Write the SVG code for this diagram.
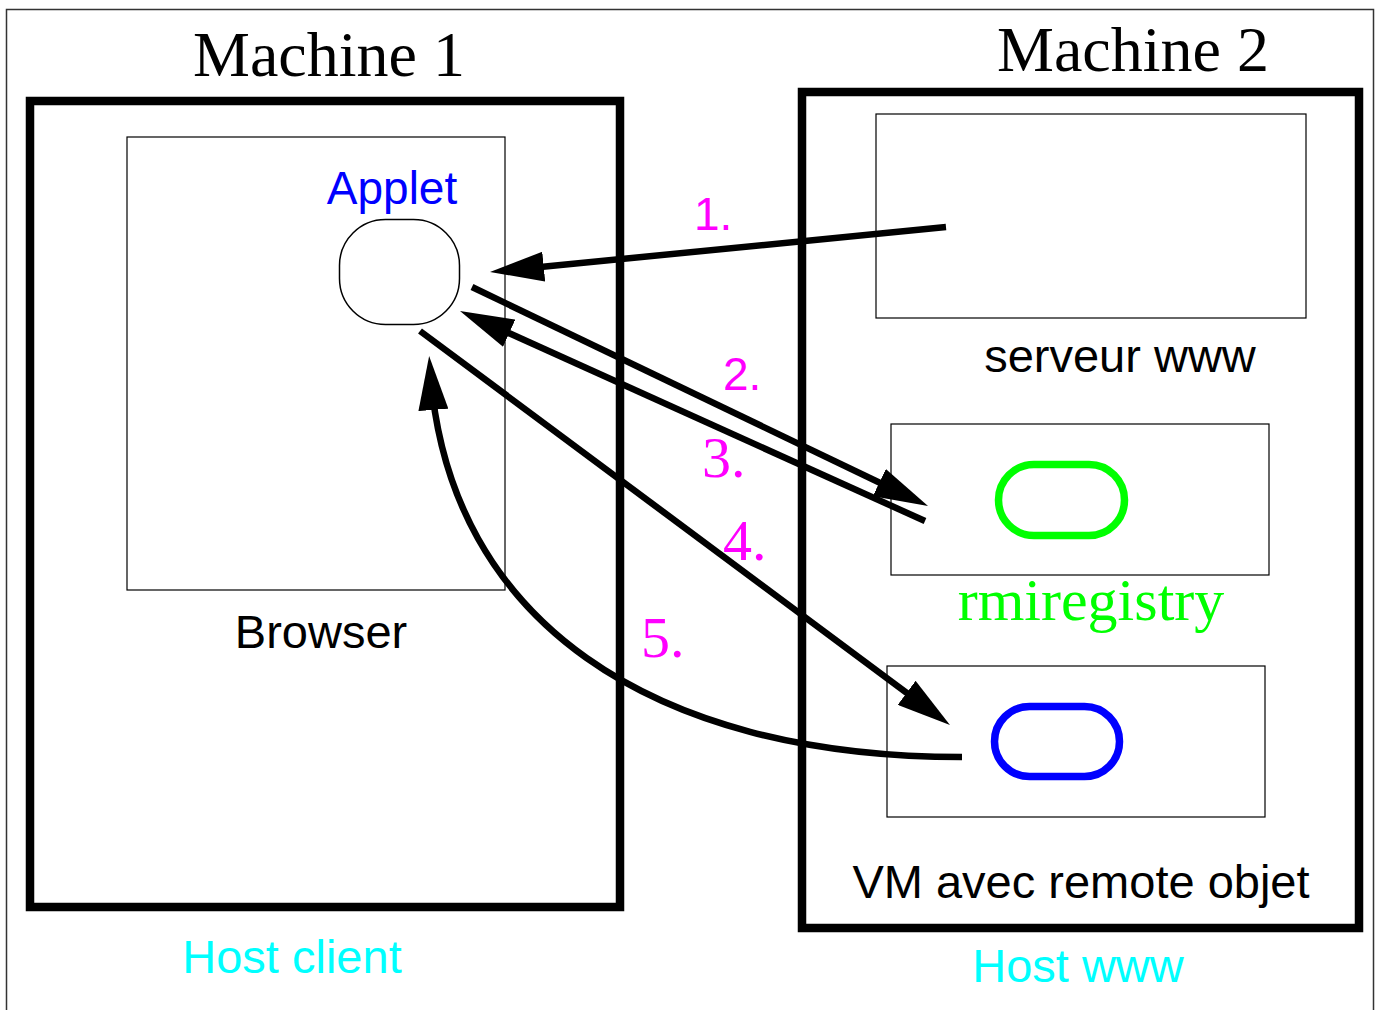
<svg xmlns="http://www.w3.org/2000/svg" width="1378" height="1010" viewBox="0 0 1378 1010">
  <style>
    .frame { fill: none; stroke: #000; stroke-width: 8.5; }
    .box { fill: none; stroke: #000; stroke-width: 1.2; }
    .title { font-family: "Liberation Serif", serif; font-size: 64px; fill: #000; }
    .label { font-family: "Liberation Sans", sans-serif; font-size: 47px; fill: #000; }
    .host { font-family: "Liberation Sans", sans-serif; font-size: 47px; fill: #00ffff; }
    .step { fill: #ff00ff; }
    .step-sans { font-family: "Liberation Sans", sans-serif; font-size: 46px; }
    .step-serif { font-family: "Liberation Serif", serif; font-size: 58px; }
    .link { fill: none; stroke: #000; stroke-width: 6.5; marker-end: url(#head); }
  </style>
  <defs>
    <marker id="head" viewBox="0 0 54 30" refX="34" refY="15" markerWidth="54" markerHeight="30" markerUnits="userSpaceOnUse" orient="auto">
      <path d="M0,0 L54,15 L0,30 z" fill="#000"/>
    </marker>
  </defs>

  <rect width="1378" height="1010" fill="#fff"/>
  <!-- page border -->
  <rect x="6.5" y="9.5" width="1367" height="1010" fill="none" stroke="#333" stroke-width="1.5"/>

  <!-- Machine 1: client host -->
  <g id="machine1">
    <text class="title" x="329" y="76" text-anchor="middle">Machine 1</text>
    <rect class="frame" x="30" y="101" width="590" height="806"/>
    <text class="host" x="292" y="973" text-anchor="middle">Host client</text>
  </g>
  <g id="browser">
    <rect class="box" x="127" y="137" width="378" height="453"/>
    <text class="label" x="321" y="648" text-anchor="middle">Browser</text>
  </g>
  <g id="applet">
    <text x="392" y="204" text-anchor="middle" font-family="Liberation Sans, sans-serif" font-size="46" fill="#0000ff">Applet</text>
    <rect x="339.5" y="219.5" width="120" height="105" rx="46" ry="46" fill="#fff" stroke="#000" stroke-width="1.5"/>
  </g>

  <!-- Machine 2: www host -->
  <g id="machine2">
    <text class="title" x="1133" y="71" text-anchor="middle">Machine 2</text>
    <rect class="frame" x="802" y="92" width="557" height="836"/>
    <text class="host" x="1078" y="982" text-anchor="middle">Host www</text>
  </g>
  <g id="serveur-www">
    <rect class="box" x="876" y="114" width="430" height="204"/>
    <text class="label" x="1120" y="372" text-anchor="middle">serveur www</text>
  </g>
  <g id="rmiregistry">
    <rect class="box" x="891" y="424" width="378" height="151"/>
    <rect x="998.5" y="464.5" width="126" height="71" rx="35.5" ry="35.5" fill="none" stroke="#00ff00" stroke-width="7.5"/>
    <text x="1091" y="620" text-anchor="middle" font-family="Liberation Serif, serif" font-size="60" fill="#00ff00">rmiregistry</text>
  </g>
  <g id="remote-vm">
    <rect class="box" x="887" y="666" width="378" height="151"/>
    <rect x="994.5" y="706.5" width="125" height="70" rx="35" ry="35" fill="none" stroke="#0000ff" stroke-width="7.5"/>
    <text class="label" x="1081" y="898" text-anchor="middle">VM avec remote objet</text>
  </g>

  <!-- numbered connectors -->
  <g id="connectors">
    <path class="link" d="M946,227 L509.9,270"/>
    <path class="link" d="M472,287 L910,497.3"/>
    <path class="link" d="M925,521 L478.2,319.2"/>
    <path class="link" d="M420,331 L933.9,713.1"/>
    <path class="link" d="M962,757 C650,757 450,620 430.7,376"/>
  </g>
  <g id="step-labels" class="step">
    <text class="step-sans" x="694" y="230">1.</text>
    <text class="step-sans" x="723" y="390">2.</text>
    <text class="step-serif" x="702" y="477">3.</text>
    <text class="step-serif" x="723" y="560">4.</text>
    <text class="step-serif" x="641" y="657">5.</text>
  </g>
</svg>
